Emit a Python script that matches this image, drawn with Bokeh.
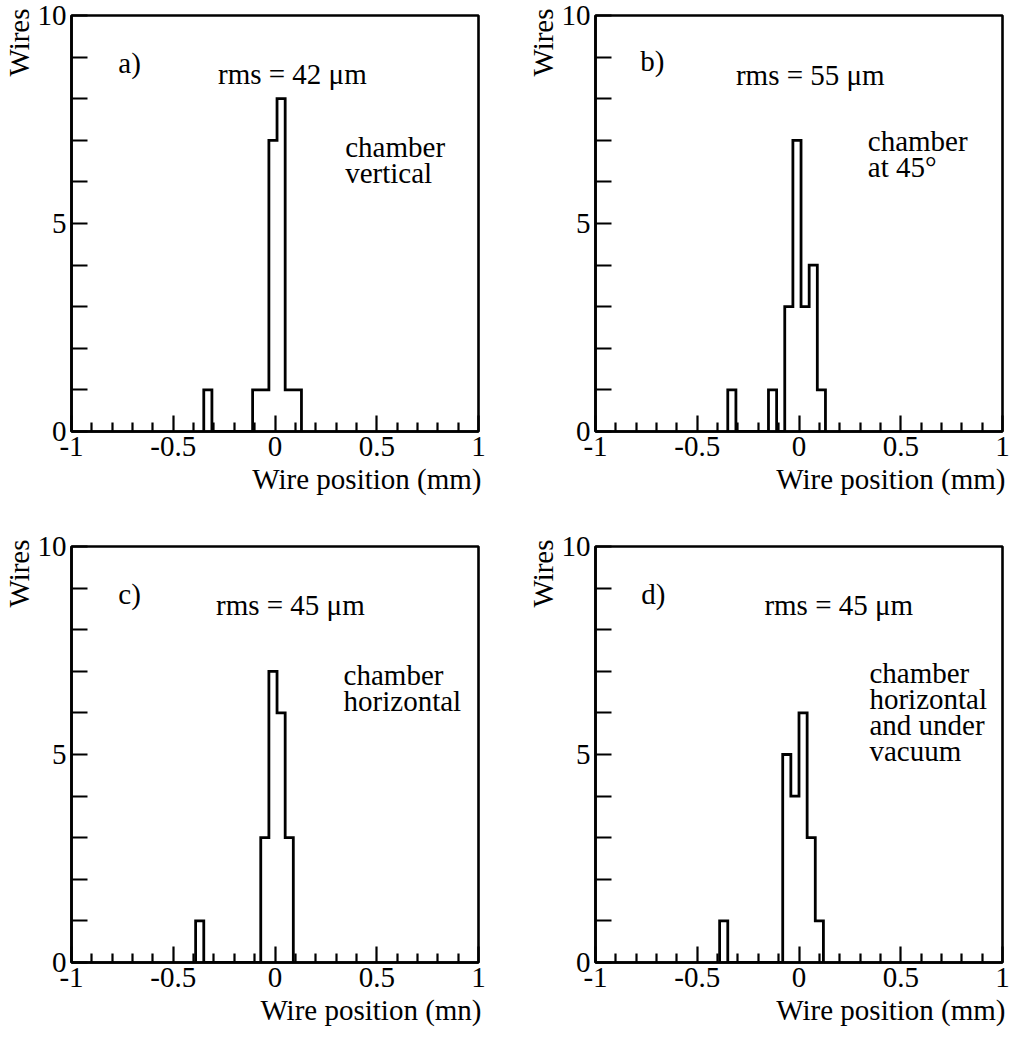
from bokeh.plotting import figure
from bokeh.models import FixedTicker, Label, Title
from bokeh.layouts import column, row
from bokeh.embed import file_html
from bokeh.resources import INLINE

# ---- data ----
BIN_WIDTH = 0.04
a_left = [-0.35, -0.11, -0.07, -0.03, 0.01, 0.05, 0.09]
a_counts = [1, 1, 1, 7, 8, 1, 1]
b_left = [-0.35, -0.15, -0.07, -0.03, 0.01, 0.05, 0.09]
b_counts = [1, 1, 3, 7, 3, 4, 1]
c_left = [-0.39, -0.07, -0.03, 0.01, 0.05]
c_counts = [1, 3, 7, 6, 3]
d_left = [-0.39, -0.08, -0.04, 0.00, 0.04, 0.08]
d_counts = [1, 5, 4, 6, 3, 1]

x_major = [-1, -0.5, 0, 0.5, 1]
x_labels = ["-1", "-0.5", "0", "0.5", "1"]
x_minor = [-0.9, -0.8, -0.7, -0.6, -0.4, -0.3, -0.2, -0.1, 0.1, 0.2, 0.3, 0.4, 0.6, 0.7, 0.8, 0.9]
y_major = [0, 5, 10]
y_minor = [1, 2, 3, 4, 6, 7, 8, 9]

panel_tags = ["a)", "b)", "c)", "d)"]
rms_texts = ["rms = 42 \u03bcm", "rms = 55 \u03bcm", "rms = 45 \u03bcm", "rms = 45 \u03bcm"]
notes = [["chamber", "vertical"], ["chamber", "at 45\u00b0"], ["chamber", "horizontal"],
         ["chamber", "horizontal", "and under", "vacuum"]]
x_titles = ["Wire position (mm)", "Wire position (mm)", "Wire position (mn)", "Wire position (mm)"]
y_title = "Wires"

FONT = "Liberation Serif"
FS = "29px"
LW = 2.6


def outline(lefts, counts, w):
    xs, ys = [], []
    prev_right = None
    for l, c in zip(lefts, counts):
        r = l + w
        if prev_right is None or abs(l - prev_right) > 1e-9:
            if prev_right is not None:
                xs.append(prev_right); ys.append(0)
            xs.append(l); ys.append(0)
        xs += [l, r]; ys += [c, c]
        prev_right = r
    xs.append(prev_right); ys.append(0)
    return xs, ys


def make_panel(idx, lefts, counts, border_right, border_bottom, tag_pos, rms_pos, note_pos):
    p = figure(frame_width=407, frame_height=416, x_range=(-1, 1), y_range=(0, 10),
               output_backend="svg", toolbar_location=None,
               min_border_left=71, min_border_right=border_right,
               min_border_top=15, min_border_bottom=border_bottom,
               background_fill_color="white", border_fill_color="white")
    p.grid.visible = False
    p.outline_line_color = "black"
    p.outline_line_width = LW
    p.outline_line_alpha = 1

    xs, ys = outline(lefts, counts, BIN_WIDTH)
    p.line(xs, ys, line_color="black", line_width=2.8, line_join="miter")

    for ax in (p.xaxis[0], p.yaxis[0]):
        ax.axis_line_width = LW
        ax.major_tick_line_width = 2.2
        ax.minor_tick_line_width = 2.2
        ax.major_tick_out = 0
        ax.minor_tick_out = 0
        ax.major_label_text_font = FONT
        ax.major_label_text_font_size = FS
        ax.major_label_text_color = "black"
        ax.axis_line_color = "black"
        ax.major_tick_line_color = "black"
        ax.minor_tick_line_color = "black"

    p.xaxis.ticker = FixedTicker(ticks=x_major, minor_ticks=x_minor)
    p.xaxis.major_label_overrides = {t: s for t, s in zip(x_major, x_labels)}
    p.xaxis.major_tick_in = 16
    p.xaxis.minor_tick_in = 9
    p.xaxis.major_label_standoff = 5

    p.yaxis.ticker = FixedTicker(ticks=y_major, minor_ticks=y_minor)
    p.yaxis.major_tick_in = 16
    p.yaxis.minor_tick_in = 16
    p.yaxis.major_label_standoff = 5

    # axis titles, placed at the ends of the axes
    p.add_layout(Title(text=y_title, align="right", standoff=0, offset=-7,
                       text_font=FONT, text_font_size=FS, text_font_style="normal",
                       text_color="black"), "left")
    p.add_layout(Title(text=x_titles[idx], align="right", standoff=4, offset=-3,
                       text_font=FONT, text_font_size=FS, text_font_style="normal",
                       text_color="black"), "below")

    # annotations
    p.add_layout(Label(x=tag_pos[0], y=tag_pos[1], text=panel_tags[idx], text_font=FONT,
                       text_font_size=FS, text_baseline="alphabetic", text_color="black"))
    p.add_layout(Label(x=rms_pos[0], y=rms_pos[1], text=rms_texts[idx], text_font=FONT,
                       text_font_size=FS, text_baseline="alphabetic", text_color="black"))
    for k, line in enumerate(notes[idx]):
        p.add_layout(Label(x=note_pos[0], y=note_pos[1], y_offset=-26 * k, text=line,
                           text_font=FONT, text_font_size=FS, text_baseline="alphabetic",
                           text_color="black"))
    return p


pa = make_panel(0, a_left, a_counts, 46, 100, (-0.77, 8.85), (-0.28, 8.6), (0.345, 6.85))
pb = make_panel(1, b_left, b_counts, 12, 100, (-0.78, 8.9), (-0.31, 8.57), (0.338, 6.98))
pc = make_panel(2, c_left, c_counts, 46, 75, (-0.77, 8.85), (-0.29, 8.6), (0.337, 6.92))
pd = make_panel(3, d_left, d_counts, 12, 75, (-0.775, 8.85), (-0.17, 8.6), (0.346, 6.95))

layout = column(row(pa, pb), row(pc, pd))
open("out.html", "w").write(file_html(layout, INLINE))
